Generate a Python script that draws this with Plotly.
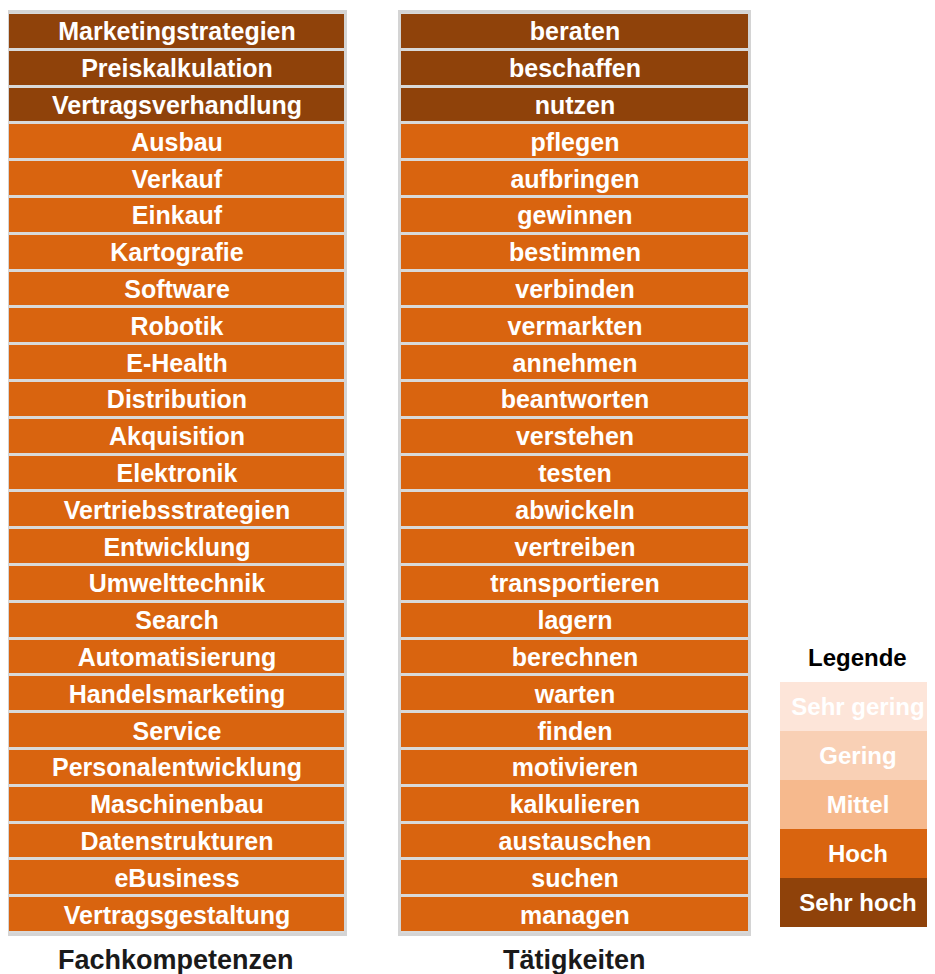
import plotly.graph_objects as go

# Fachkompetenzen (left column) and their levels: 5 = Sehr hoch, 4 = Hoch
fach = ["Marketingstrategien", "Preiskalkulation", "Vertragsverhandlung", "Ausbau", "Verkauf",
        "Einkauf", "Kartografie", "Software", "Robotik", "E-Health", "Distribution",
        "Akquisition", "Elektronik", "Vertriebsstrategien", "Entwicklung", "Umwelttechnik",
        "Search", "Automatisierung", "Handelsmarketing", "Service", "Personalentwicklung",
        "Maschinenbau", "Datenstrukturen", "eBusiness", "Vertragsgestaltung"]
fach_level = [5, 5, 5] + [4] * 22

# Tätigkeiten (right column)
taet = ["beraten", "beschaffen", "nutzen", "pflegen", "aufbringen", "gewinnen", "bestimmen",
        "verbinden", "vermarkten", "annehmen", "beantworten", "verstehen", "testen",
        "abwickeln", "vertreiben", "transportieren", "lagern", "berechnen", "warten",
        "finden", "motivieren", "kalkulieren", "austauschen", "suchen", "managen"]
taet_level = [5, 5, 5] + [4] * 22

# legend
leg_labels = ["Sehr gering", "Gering", "Mittel", "Hoch", "Sehr hoch"]
leg_level = [1, 2, 3, 4, 5]
level_colors = ["#fde5d9", "#f9d0b5", "#f6b98d", "#d9640f", "#8f420a"]

cscale = []
for i, c in enumerate(level_colors):
    cscale.append([i / 5, c])
    cscale.append([(i + 1) / 5, c])

# page body has an 8px margin, so figure coords = screen coords - 8
OFF = 8
W, H = 927, 966
FONT = "Liberation Sans, Arial"


def xd(a, b):
    return [max(0, (a - OFF) / W), min(1, (b - OFF) / W)]


def yd(top, bottom):
    return [max(0, 1 - (bottom - OFF) / H), min(1, 1 - (top - OFF) / H)]


fig = go.Figure()

cols = [(fach, fach_level, "x", "y"), (taet, taet_level, "x2", "y2")]
for names, lev, xa, ya in cols:
    fig.add_trace(go.Heatmap(
        z=[[v] for v in lev], text=[[n] for n in names],
        x=[0], y=list(range(len(names))),
        texttemplate="<b>%{text}</b>",
        textfont=dict(family=FONT, size=25, color="white"),
        colorscale=cscale, zmin=0.5, zmax=5.5, showscale=False,
        ygap=3, hoverinfo="text", xaxis=xa, yaxis=ya,
    ))

fig.add_trace(go.Heatmap(
    z=[[v] for v in leg_level], text=[[n] for n in leg_labels],
    x=[0], y=list(range(len(leg_labels))),
    texttemplate="<b>%{text}</b>",
    textfont=dict(family=FONT, size=24, color="white"),
    colorscale=cscale, zmin=0.5, zmax=5.5, showscale=False,
    hoverinfo="text", xaxis="x3", yaxis="y3",
))

ax_common = dict(showticklabels=False, showgrid=False, zeroline=False, ticks="",
                 fixedrange=True)
frame = dict(showline=True, linecolor="#d4d4d4", linewidth=3, mirror=True)

fig.update_layout(
    width=W, height=H,
    margin=dict(l=0, r=0, t=0, b=0),
    paper_bgcolor="white", plot_bgcolor="#d9d9d9",
    xaxis=dict(domain=xd(9, 344), range=[-0.5, 0.5], **ax_common, **frame),
    yaxis=dict(domain=yd(13, 933), range=[24.5, -0.5], **ax_common, **frame),
    xaxis2=dict(domain=xd(401, 748), range=[-0.5, 0.5], anchor="y2", **ax_common, **frame),
    yaxis2=dict(domain=yd(13, 933), range=[24.5, -0.5], anchor="x2", **ax_common, **frame),
    xaxis3=dict(domain=xd(780, 935), range=[-0.5, 0.5], anchor="y3", **ax_common),
    yaxis3=dict(domain=yd(682, 927), range=[4.5, -0.5], anchor="x3", **ax_common),
    annotations=[
        dict(text="<b>Fachkompetenzen</b>", x=(176 - OFF) / W, y=1 - (960 - OFF) / H,
             xref="paper", yref="paper", xanchor="center", yanchor="middle", showarrow=False,
             font=dict(family=FONT, size=27, color="#1a1a1a")),
        dict(text="<b>Tätigkeiten</b>", x=(574 - OFF) / W, y=1 - (960 - OFF) / H,
             xref="paper", yref="paper", xanchor="center", yanchor="middle", showarrow=False,
             font=dict(family=FONT, size=27, color="#1a1a1a")),
        dict(text="<b>Legende</b>", x=(857 - OFF) / W, y=1 - (657 - OFF) / H,
             xref="paper", yref="paper", xanchor="center", yanchor="middle", showarrow=False,
             font=dict(family=FONT, size=24, color="black")),
    ],
)

fig.write_html("out.html")
